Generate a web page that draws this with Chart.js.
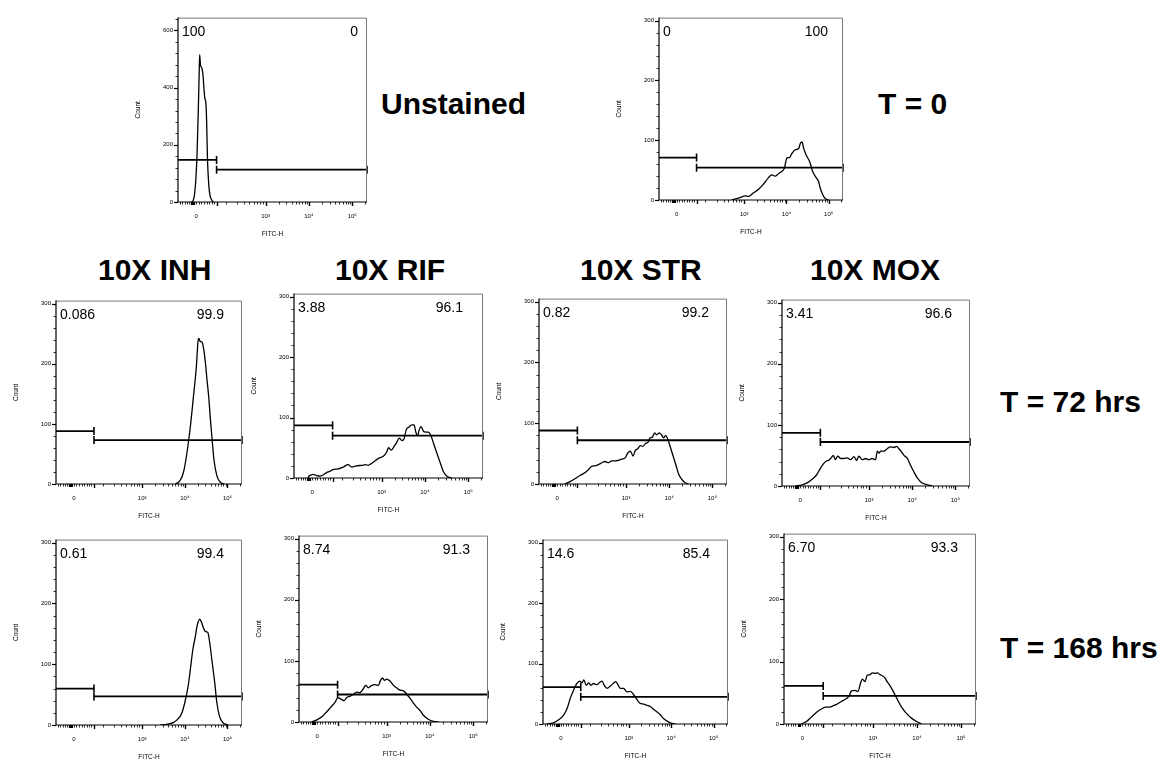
<!DOCTYPE html>
<html>
<head>
<meta charset="utf-8">
<script src="https://cdn.jsdelivr.net/npm/chart.js@4.4.0/dist/chart.umd.min.js"></script>
<style>
  html, body { margin: 0; padding: 0; background: #fff; }
  body { width: 1157px; height: 761px; position: relative; overflow: hidden;
         font-family: "Liberation Sans", Arial, sans-serif; }
  canvas { position: absolute; }
  .title { position: absolute; font-weight: bold; font-size: 30px; line-height: 30px;
           white-space: nowrap; color: #000; }
</style>
</head>
<body>
<div class="title" style="left:381px;top:89px">Unstained</div>
<div class="title" style="left:878px;top:89px">T = 0</div>
<div class="title" style="left:98px;top:255px">10X INH</div>
<div class="title" style="left:335px;top:255px">10X RIF</div>
<div class="title" style="left:580px;top:255px">10X STR</div>
<div class="title" style="left:810px;top:255px">10X MOX</div>
<div class="title" style="left:1000px;top:387px">T = 72 hrs</div>
<div class="title" style="left:1000px;top:633px">T = 168 hrs</div>

<script>
// ---- Data: FITC-H histograms (x in display units of the biexponential axis, y = event count) ----
const unstained_u     = [1.29, 1.33, 1.36, 1.39, 1.42, 1.45, 1.47, 1.48, 1.50, 1.52, 1.54, 1.56, 1.58, 1.60, 1.62, 1.64, 1.66, 1.69, 1.72, 1.76, 1.80];
const unstained_count = [0, 5, 25, 75, 170, 330, 460, 515, 478, 472, 462, 438, 395, 362, 350, 285, 150, 60, 22, 6, 0];

const t0_u     = [2.70, 2.90, 3.02, 3.10, 3.22, 3.34, 3.45, 3.57, 3.65, 3.73, 3.81, 3.91, 3.95, 4.01, 4.07, 4.13, 4.21, 4.29, 4.33, 4.37, 4.41, 4.47, 4.55, 4.62, 4.68, 4.76, 4.80, 4.84, 4.88, 4.93, 5.00];
const t0_count = [0, 4, 7, 6, 12, 18, 26, 37, 42, 40, 44, 49, 53, 70, 71, 78, 84, 86, 95, 97, 86, 75, 64, 48, 40, 31, 20, 12, 6, 2, 0];

const inh72_u     = [3.78, 3.89, 3.97, 4.05, 4.13, 4.21, 4.27, 4.31, 4.33, 4.36, 4.40, 4.44, 4.48, 4.52, 4.56, 4.60, 4.64, 4.68, 4.75, 4.83, 4.93];
const inh72_count = [0, 6, 20, 52, 96, 151, 195, 238, 242, 237, 236, 225, 203, 173, 145, 107, 74, 42, 14, 3, 0];

const rif72_u     = [1.30, 1.34, 1.38, 1.42, 1.50, 1.57, 1.65, 1.73, 1.81, 1.88, 2.00, 2.11, 2.23, 2.31, 2.42, 2.54, 2.64, 2.69, 2.81, 2.92, 3.04, 3.12, 3.16, 3.22, 3.27, 3.35, 3.41, 3.47, 3.52, 3.57, 3.63, 3.70, 3.75, 3.79, 3.83, 3.87, 3.91, 3.97, 4.02, 4.08, 4.14, 4.20, 4.28, 4.35, 4.43, 4.51, 4.62];
const rif72_count = [0, 4, 5, 6, 4, 3, 5, 9, 11, 14, 15, 18, 22, 18, 20, 21, 22, 21, 26, 32, 36, 43, 50, 46, 50, 59, 66, 62, 65, 80, 84, 88, 88, 76, 70, 80, 85, 77, 76, 76, 70, 57, 40, 26, 10, 3, 0];

const str72_u     = [1.58, 1.70, 1.82, 1.93, 2.05, 2.13, 2.20, 2.28, 2.36, 2.44, 2.51, 2.59, 2.67, 2.75, 2.82, 2.90, 2.98, 3.04, 3.10, 3.16, 3.21, 3.27, 3.33, 3.39, 3.44, 3.51, 3.56, 3.61, 3.66, 3.71, 3.77, 3.82, 3.87, 3.92, 3.97, 4.02, 4.09, 4.16, 4.22, 4.30, 4.37, 4.45];
const str72_count = [0, 4, 9, 14, 19, 24, 29, 30, 32, 35, 37, 35, 38, 38, 39, 41, 43, 51, 54, 46, 55, 58, 63, 62, 66, 69, 76, 77, 84, 81, 84, 81, 76, 80, 73, 62, 46, 30, 16, 7, 2, 0];

const mox72_u     = [1.29, 1.45, 1.56, 1.68, 1.78, 1.87, 1.95, 2.01, 2.06, 2.12, 2.17, 2.22, 2.27, 2.34, 2.41, 2.49, 2.57, 2.65, 2.71, 2.76, 2.84, 2.92, 2.99, 3.07, 3.15, 3.19, 3.23, 3.27, 3.34, 3.42, 3.50, 3.58, 3.64, 3.69, 3.75, 3.81, 3.89, 3.96, 4.04, 4.13, 4.23, 4.35, 4.47];
const mox72_count = [0, 2, 5, 11, 18, 29, 37, 41, 42, 46, 50, 43, 49, 45, 45, 46, 43, 48, 42, 49, 43, 45, 43, 45, 43, 57, 54, 57, 57, 61, 64, 63, 65, 61, 56, 50, 45, 34, 23, 12, 5, 2, 0];

const inh168_u     = [3.42, 3.57, 3.73, 3.84, 3.92, 4.00, 4.08, 4.13, 4.19, 4.25, 4.29, 4.35, 4.39, 4.43, 4.48, 4.54, 4.58, 4.63, 4.70, 4.75, 4.81, 4.89, 5.01];
const inh168_count = [0, 1, 4, 10, 18, 37, 65, 92, 125, 147, 164, 174, 169, 161, 154, 152, 137, 109, 70, 37, 15, 4, 0];

const rif168_u     = [1.27, 1.38, 1.50, 1.61, 1.71, 1.81, 1.88, 1.96, 2.02, 2.08, 2.15, 2.23, 2.31, 2.38, 2.46, 2.52, 2.58, 2.64, 2.73, 2.81, 2.86, 2.91, 2.95, 3.00, 3.08, 3.16, 3.23, 3.31, 3.39, 3.47, 3.54, 3.62, 3.70, 3.77, 3.85, 3.97, 4.08, 4.20];
const rif168_count = [0, 3, 8, 16, 24, 32, 40, 37, 35, 40, 42, 45, 49, 48, 54, 60, 56, 59, 61, 60, 68, 72, 68, 70, 67, 60, 56, 52, 51, 45, 39, 31, 24, 19, 11, 4, 1, 0];

const str168_u     = [1.07, 1.23, 1.35, 1.47, 1.55, 1.62, 1.70, 1.78, 1.84, 1.90, 1.94, 2.00, 2.06, 2.11, 2.17, 2.25, 2.32, 2.37, 2.43, 2.49, 2.57, 2.65, 2.69, 2.74, 2.80, 2.88, 2.96, 3.04, 3.12, 3.20, 3.27, 3.35, 3.43, 3.51, 3.59, 3.67, 3.75, 3.82, 3.90, 3.98, 4.10];
const str168_count = [0, 2, 7, 15, 26, 42, 56, 67, 71, 68, 73, 64, 68, 64, 67, 65, 69, 71, 63, 59, 63, 68, 70, 66, 59, 59, 53, 54, 48, 40, 34, 33, 31, 29, 24, 20, 15, 9, 5, 2, 0];

const mox168_u     = [1.37, 1.49, 1.60, 1.72, 1.83, 1.93, 2.02, 2.09, 2.19, 2.28, 2.38, 2.46, 2.51, 2.59, 2.66, 2.72, 2.76, 2.82, 2.87, 2.93, 2.99, 3.04, 3.10, 3.16, 3.22, 3.27, 3.33, 3.40, 3.47, 3.55, 3.65, 3.76, 3.88, 3.99, 4.10];
const mox168_count = [0, 4, 11, 19, 24, 27, 27, 29, 32, 36, 40, 45, 53, 54, 52, 66, 72, 68, 78, 79, 82, 81, 82, 79, 77, 74, 67, 60, 51, 40, 27, 17, 9, 4, 0];

// ---- Gate statistics (percent of events left / right of the gate) and gate marker heights ----
const leftPercent    = ['100', '0', '0.086', '3.88', '0.82', '3.41', '0.61', '8.74', '14.6', '6.70'];
const rightPercent   = ['0', '100', '99.9', '96.1', '99.2', '96.6', '99.4', '91.3', '85.4', '93.3'];
const leftGateCount  = [147, 71, 88, 87, 88, 87, 60, 61, 61, 61];
const rightGateCount = [113, 54, 73, 70, 72, 72, 47, 45, 45, 45];

// ---- Axis definitions ----
const countAxisMax  = [645, 305, 305, 305, 305, 305, 305, 305, 305, 305];
const countTickSets = [[0, 200, 400, 600], [0, 100, 200, 300]];
const countTickSetOf = [0, 1, 1, 1, 1, 1, 1, 1, 1, 1];
const countMinorStep = [40, 20];
const fitcTickValues = [1.40, 3, 4, 5];
const fitcTickLabels = ['0', '10\u00B3', '10\u2074', '10\u2075'];
const GATE_U = 1.87;
const X_MIN = 0.98, X_MAX = 5.34;

const histograms = [
  [unstained_u, unstained_count], [t0_u, t0_count],
  [inh72_u, inh72_count], [rif72_u, rif72_count], [str72_u, str72_count], [mox72_u, mox72_count],
  [inh168_u, inh168_count], [rif168_u, rif168_count], [str168_u, str168_count], [mox168_u, mox168_count]
];

// ---- Page layout: plot-area rectangle of each panel (page pixels) ----
const plotBoxes = [
  { l: 178, t: 17,  r: 367, b: 202, rInset: 9 },
  { l: 659, t: 17,  r: 843, b: 200, rInset: 15 },
  { l: 56,  t: 300, r: 242, b: 484, rInset: 18 },
  { l: 294, t: 293, r: 483, b: 478, rInset: 20 },
  { l: 539, t: 298, r: 727, b: 484, rInset: 18 },
  { l: 782, t: 299, r: 970, b: 486, rInset: 18 },
  { l: 56,  t: 539, r: 242, b: 725, rInset: 18 },
  { l: 299, t: 535, r: 488, b: 722, rInset: 18 },
  { l: 543, t: 539, r: 728, b: 724, rInset: 18 },
  { l: 784, t: 533, r: 976, b: 724, rInset: 18 }
];

const FONT = "'Liberation Sans', Arial, 'DejaVu Sans', sans-serif";
const AXIS_W = 50, AXIS_H = 42, PAD = 8;

// minor tick positions along the biexponential FITC-H axis
const fitcMajorMarks = [GATE_U, 3, 4, 5];
const fitcMinorMarks = [1.02, 1.08, 1.14, 1.19, 1.24, 1.40, 1.46, 1.52, 1.58, 1.64, 1.70, 1.76, 1.81,
  2.08, 2.35, 2.51, 2.62, 2.73, 2.81, 2.87, 2.93];
for (let d = 3; d <= 4; d++) for (let k = 2; k <= 9; k++) fitcMinorMarks.push(d + Math.log10(k));
fitcMinorMarks.push(5 + Math.log10(2));
const fitcZeroCluster = [1.29, 1.31, 1.33, 1.35];

// Draws the panel frame, axis tick marks and the gate percentages
const flowDecor = {
  id: 'flowDecor',
  afterDatasetsDraw(chart, args, opts) {
    const { ctx, chartArea: a, scales: { x, y } } = chart;
    ctx.save();
    // frame
    ctx.strokeStyle = '#777'; ctx.lineWidth = 1;
    ctx.beginPath();
    ctx.moveTo(a.left, a.top + 0.5); ctx.lineTo(a.right - 0.5, a.top + 0.5); ctx.lineTo(a.right - 0.5, a.bottom);
    ctx.stroke();
    ctx.strokeStyle = '#000'; ctx.lineWidth = 1.2;
    ctx.beginPath();
    ctx.moveTo(a.left, a.top); ctx.lineTo(a.left, a.bottom); ctx.lineTo(a.right, a.bottom);
    ctx.stroke();
    // count ticks
    const step = opts.minorStep, major = opts.majorTicks;
    for (let v = 0; v <= y.max; v += step) {
      const py = Math.round(y.getPixelForValue(v)) + 0.5;
      const isMajor = major.includes(v);
      ctx.lineWidth = isMajor ? 1.2 : 0.8;
      ctx.beginPath(); ctx.moveTo(a.left, py); ctx.lineTo(a.left - (isMajor ? 4 : 2.5), py); ctx.stroke();
    }
    // FITC-H ticks
    const xTick = (u, len, w) => {
      const px = Math.round(x.getPixelForValue(u)) + 0.5;
      ctx.lineWidth = w;
      ctx.beginPath(); ctx.moveTo(px, a.bottom); ctx.lineTo(px, a.bottom + len); ctx.stroke();
    };
    fitcMinorMarks.forEach(u => xTick(u, 2.5, 0.8));
    fitcMajorMarks.forEach(u => xTick(u, 4, 1.4));
    fitcZeroCluster.forEach(u => xTick(u, 3, 1.2));
    // gate percentages
    ctx.fillStyle = '#000';
    ctx.font = '14px ' + FONT;
    ctx.textBaseline = 'middle';
    ctx.textAlign = 'left';
    ctx.fillText(opts.left, a.left + 4, a.top + 14.5);
    ctx.textAlign = 'right';
    ctx.fillText(opts.right, a.right - opts.rInset, a.top + 14.5);
    ctx.restore();
  }
};

histograms.forEach(([us, counts], i) => {
  const box = plotBoxes[i];
  const w = box.r - box.l, h = box.b - box.t;
  const canvas = document.createElement('canvas');
  canvas.width = w + AXIS_W + PAD;
  canvas.height = h + PAD + AXIS_H;
  canvas.style.left = (box.l - AXIS_W) + 'px';
  canvas.style.top = (box.t - PAD) + 'px';
  canvas.style.width = canvas.width + 'px';
  canvas.style.height = canvas.height + 'px';
  document.body.appendChild(canvas);

  const tickSet = countTickSets[countTickSetOf[i]];
  const gateStyle = {
    borderColor: '#000', borderWidth: 1.8, pointStyle: 'line', rotation: 90,
    pointBorderColor: '#000', pointBorderWidth: 1.6, clip: false, fill: false
  };

  new Chart(canvas, {
    type: 'line',
    data: {
      datasets: [
        {
          data: us.map((u, k) => ({ x: u, y: counts[k] })),
          borderColor: '#000', borderWidth: 1.3, pointRadius: 0,
          cubicInterpolationMode: 'monotone', fill: false
        },
        Object.assign({
          data: [{ x: X_MIN, y: leftGateCount[i] }, { x: GATE_U, y: leftGateCount[i] }],
          pointRadius: [0, 4]
        }, gateStyle),
        Object.assign({
          data: [{ x: GATE_U, y: rightGateCount[i] }, { x: X_MAX, y: rightGateCount[i] }],
          pointRadius: [4, 4]
        }, gateStyle)
      ]
    },
    options: {
      responsive: false,
      animation: false,
      devicePixelRatio: 1,
      events: [],
      layout: { padding: { top: PAD, right: PAD, left: 0, bottom: 0 } },
      plugins: {
        legend: { display: false },
        tooltip: { enabled: false },
        flowDecor: {
          left: leftPercent[i], right: rightPercent[i], rInset: box.rInset,
          minorStep: countMinorStep[countTickSetOf[i]], majorTicks: tickSet
        }
      },
      scales: {
        x: {
          type: 'linear', min: X_MIN, max: X_MAX,
          grid: { display: false, drawTicks: false },
          border: { display: false },
          afterBuildTicks: s => { s.ticks = fitcTickValues.map(v => ({ value: v })); },
          afterFit: s => { s.height = AXIS_H; },
          ticks: {
            autoSkip: false, maxRotation: 0, minRotation: 0, padding: 10.5, color: '#000',
            font: { size: 6, family: FONT },
            callback: v => fitcTickLabels[fitcTickValues.indexOf(v)]
          },
          title: { display: true, text: 'FITC-H', color: '#000', font: { size: 6.5, family: FONT },
                   padding: { top: 0, bottom: 6 } }
        },
        y: {
          type: 'linear', min: 0, max: countAxisMax[i],
          grid: { display: false, drawTicks: false },
          border: { display: false },
          afterBuildTicks: s => { s.ticks = tickSet.map(v => ({ value: v })); },
          afterFit: s => { s.width = AXIS_W; },
          ticks: { padding: 5, color: '#000', font: { size: 6, family: FONT } },
          title: { display: true, text: 'Count', color: '#000', font: { size: 6.5, family: FONT },
                   padding: { top: 6, bottom: 0 } }
        }
      }
    },
    plugins: [flowDecor]
  });
});
</script>
</body>
</html>
